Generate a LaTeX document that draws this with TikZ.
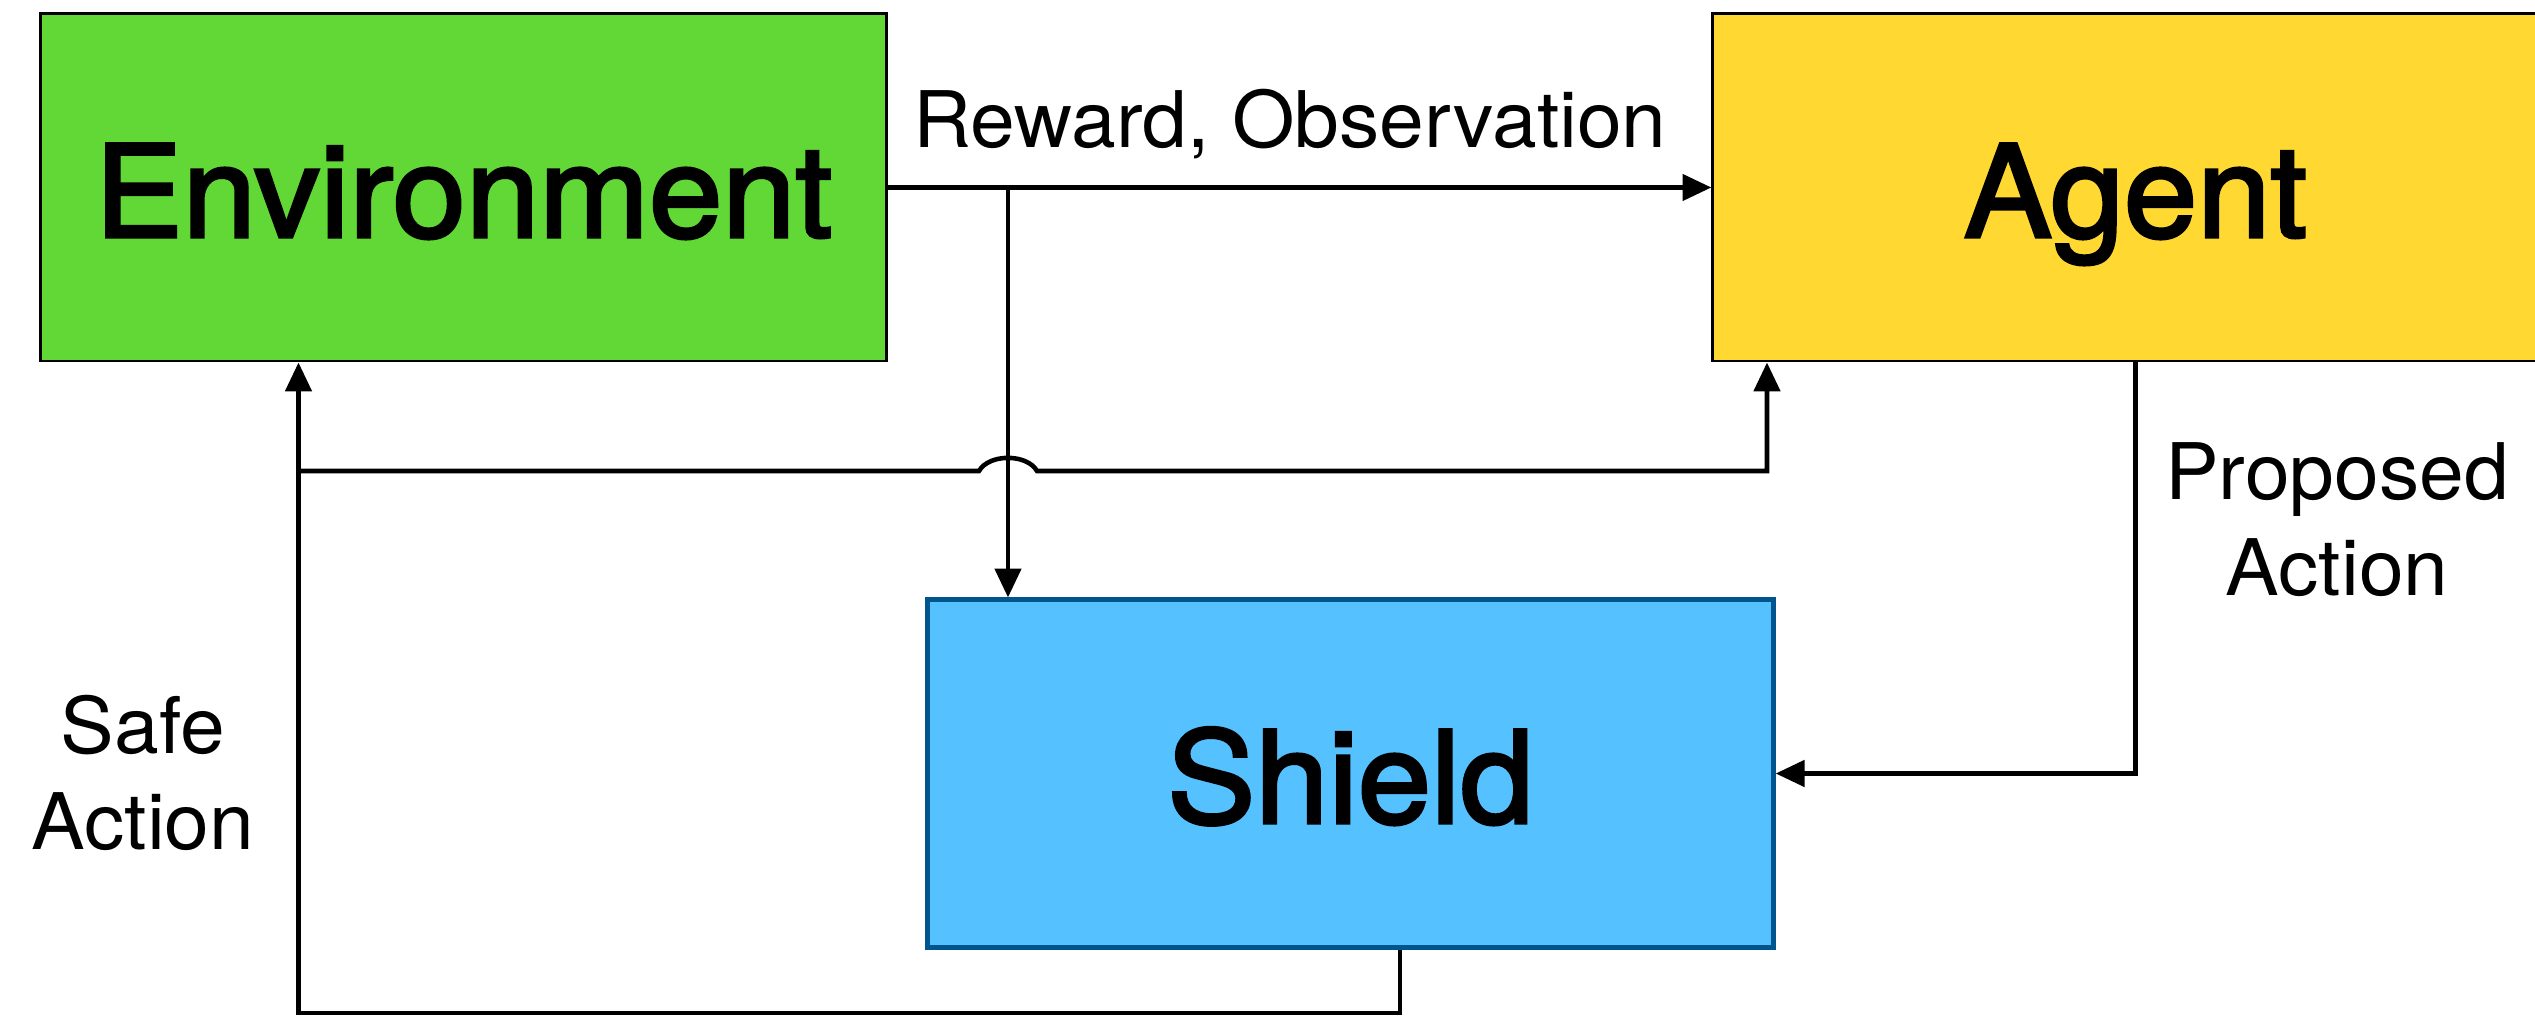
\documentclass[tikz,border=0pt]{standalone}
\usepackage{fontspec}
\setmainfont[FakeStretch=1.03]{TeX Gyre Heros}
\newfontfamily\boxfont[FakeBold=2.5,FakeStretch=1.03]{TeX Gyre Heros}
\usetikzlibrary{arrows.meta,calc}

\definecolor{envgreen}{HTML}{61D836}
\definecolor{agentyellow}{HTML}{FFD932}
\definecolor{shieldblue}{HTML}{56C1FF}
\definecolor{shieldedge}{HTML}{00568C}

\begin{document}
\begin{tikzpicture}[x=0.01cm,y=-0.01cm,
  block/.style={draw=black, line width=0.8pt, minimum width=8.45cm,
    minimum height=3.47cm, inner sep=0pt, text height=0.99cm, text depth=0pt,
    font=\boxfont\fontsize{36.4}{40}\selectfont},
  flow/.style={line width=1.3pt, -{Triangle[length=8.2pt,width=7.4pt]}},
  caption/.style={inner sep=0pt, align=center,
    font=\fontsize{22.2}{27.3}\selectfont}]

% page frame
\path[use as bounding box] (0,0) rectangle (2535,1016);
\clip (0,0) rectangle (2535,1016);

% blocks
\node[block, fill=envgreen] (env) at (463.5,187.5) {Environment};
\node[block, fill=agentyellow] (agent) at (2135.5,187.5) {Agent};
\node[block, fill=shieldblue, draw=shieldedge, line width=1.4pt] (shield)
  at (1350.5,773.5) {Shield};

% routing helpers
\coordinate (tap) at (1008,187.5);
\coordinate (safex) at (1400,0);
\coordinate (floor) at (0,1013);
\coordinate (leftx) at (298.5,0);
\coordinate (branchy) at (0,471);
\coordinate (agentx) at (1767,0);
\coordinate (hop) at (tap |- branchy);

% reward / observation
\draw[flow] (env.east) -- (agent.west);
\node[caption, anchor=base] (rolabel) at (1290,148) {Reward, Observation};
\draw[flow] (tap) -- (tap |- shield.north);

% proposed action
\draw[flow] (agent.south) |- (shield.east);
\node[caption] (proplabel) at (2337,520) {Proposed\\Action};

% safe action back to environment and agent
\draw[flow] (shield.south -| safex) -- (safex |- floor) -| (leftx |- env.south);
\draw[flow] (leftx |- branchy) -- ($(hop)+(-29,0)$)
  .. controls ($(hop)+(-19,-17.5)$) and ($(hop)+(19,-17.5)$) .. ($(hop)+(29,0)$)
  -- (agentx |- branchy) -- (agentx |- agent.south);
\node[caption] (safelabel) at (143,773) {Safe\\Action};

\end{tikzpicture}
\end{document}
